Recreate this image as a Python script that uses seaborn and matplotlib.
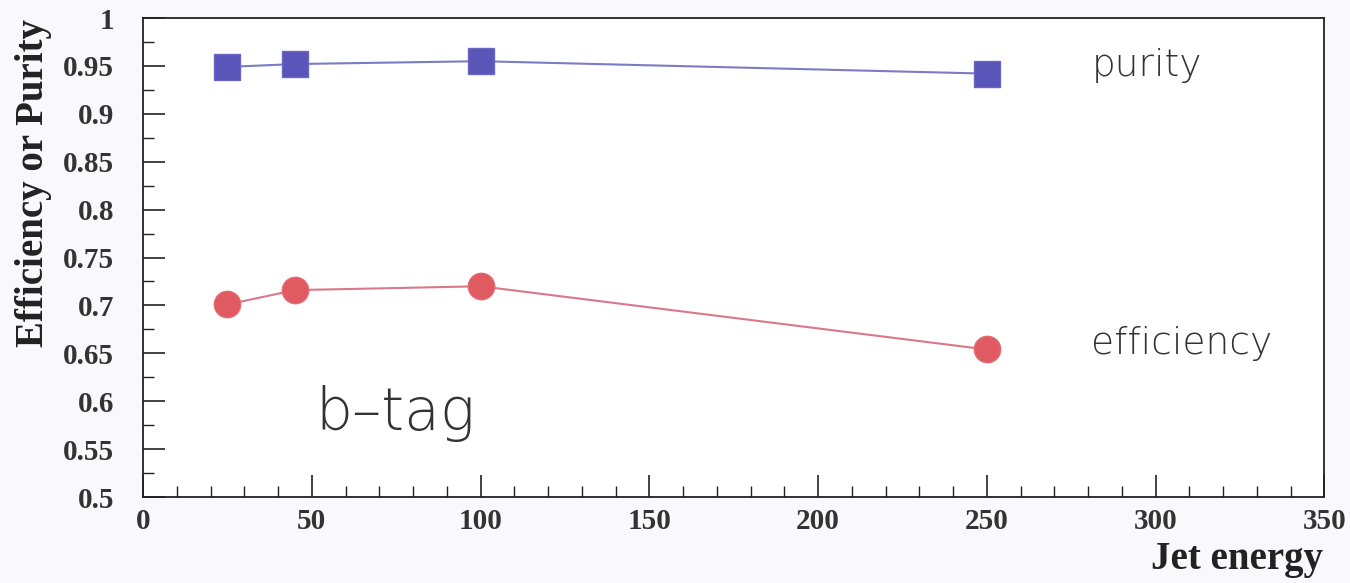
import matplotlib
matplotlib.use("Agg")
import matplotlib.pyplot as plt
import seaborn as sns
import pandas as pd
from matplotlib.ticker import MultipleLocator, FuncFormatter

# Data
jet_energy = [25, 45, 100, 250]
purity = [0.949, 0.952, 0.955, 0.942]
efficiency = [0.701, 0.716, 0.720, 0.654]
x_ticks = [0, 50, 100, 150, 200, 250, 300, 350]
y_ticks = [0.5, 0.55, 0.6, 0.65, 0.7, 0.75, 0.8, 0.85, 0.9, 0.95, 1.0]

df = pd.DataFrame({"energy": jet_energy, "purity": purity, "efficiency": efficiency})

sns.set_theme(style="white")
fig = plt.figure(figsize=(13.5, 5.83), dpi=100)
fig.patch.set_facecolor("#f9f9fd")
ax = fig.add_axes([0.106, 0.1475, 0.875, 0.8215])
ax.set_facecolor("#ffffff")

sns.lineplot(data=df, x="energy", y="purity", ax=ax, color="#7b7bc8", lw=1.5,
             marker="s", markersize=19, markerfacecolor="#5a55b8",
             markeredgecolor="#6a66c4", markeredgewidth=1)
sns.lineplot(data=df, x="energy", y="efficiency", ax=ax, color="#d9788a", lw=1.5,
             marker="o", markersize=19, markerfacecolor="#e05a62",
             markeredgecolor="#e56b72", markeredgewidth=1)

ax.set_xlim(0, 350)
ax.set_ylim(0.5, 1.0)
ax.set_xticks(x_ticks)
ax.set_yticks(y_ticks)
ax.xaxis.set_minor_locator(MultipleLocator(10))
ax.yaxis.set_minor_locator(MultipleLocator(0.025))
ax.yaxis.set_major_formatter(FuncFormatter(lambda v, p: f"{v:g}"))
ax.tick_params(which="major", direction="in", length=16, width=1.2, color="#222222",
               left=True, bottom=True, top=False, right=False)
ax.tick_params(axis="y", which="major", pad=21)
ax.tick_params(axis="x", which="major", pad=8)
ax.tick_params(which="minor", direction="in", length=8, width=1.0, color="#222222",
               left=True, bottom=True, top=False, right=False)
for lab in ax.get_xticklabels() + ax.get_yticklabels():
    lab.set_fontfamily("Liberation Serif")
    lab.set_fontweight("bold")
    lab.set_fontsize(21)
    lab.set_color("#333333")

for s in ax.spines.values():
    s.set_color("#222222")
    s.set_linewidth(1.3)

ax.set_xlabel("")
ax.set_ylabel("Efficiency or Purity", fontfamily="Liberation Serif", fontweight="bold",
              fontsize=28, color="#222222")
ax.yaxis.set_label_coords(-0.077, 0.655)
fig.text(0.98, 0.008, "Jet energy", ha="right", va="bottom", fontfamily="Liberation Serif",
         fontweight="bold", fontsize=28, color="#222222")

ax.text(281, 0.950, "purity", fontfamily="DejaVu Sans", fontweight="light", fontsize=27,
        color="#333333", va="center", ha="left")
ax.text(281, 0.660, "efficiency", fontfamily="DejaVu Sans", fontweight="light", fontsize=27,
        color="#333333", va="center", ha="left")
ax.text(51, 0.587, "b\u2013tag", fontfamily="DejaVu Sans", fontweight="light", fontsize=42,
        color="#333333", va="center", ha="left")

fig.savefig("out.png", dpi=100, facecolor=fig.get_facecolor())
